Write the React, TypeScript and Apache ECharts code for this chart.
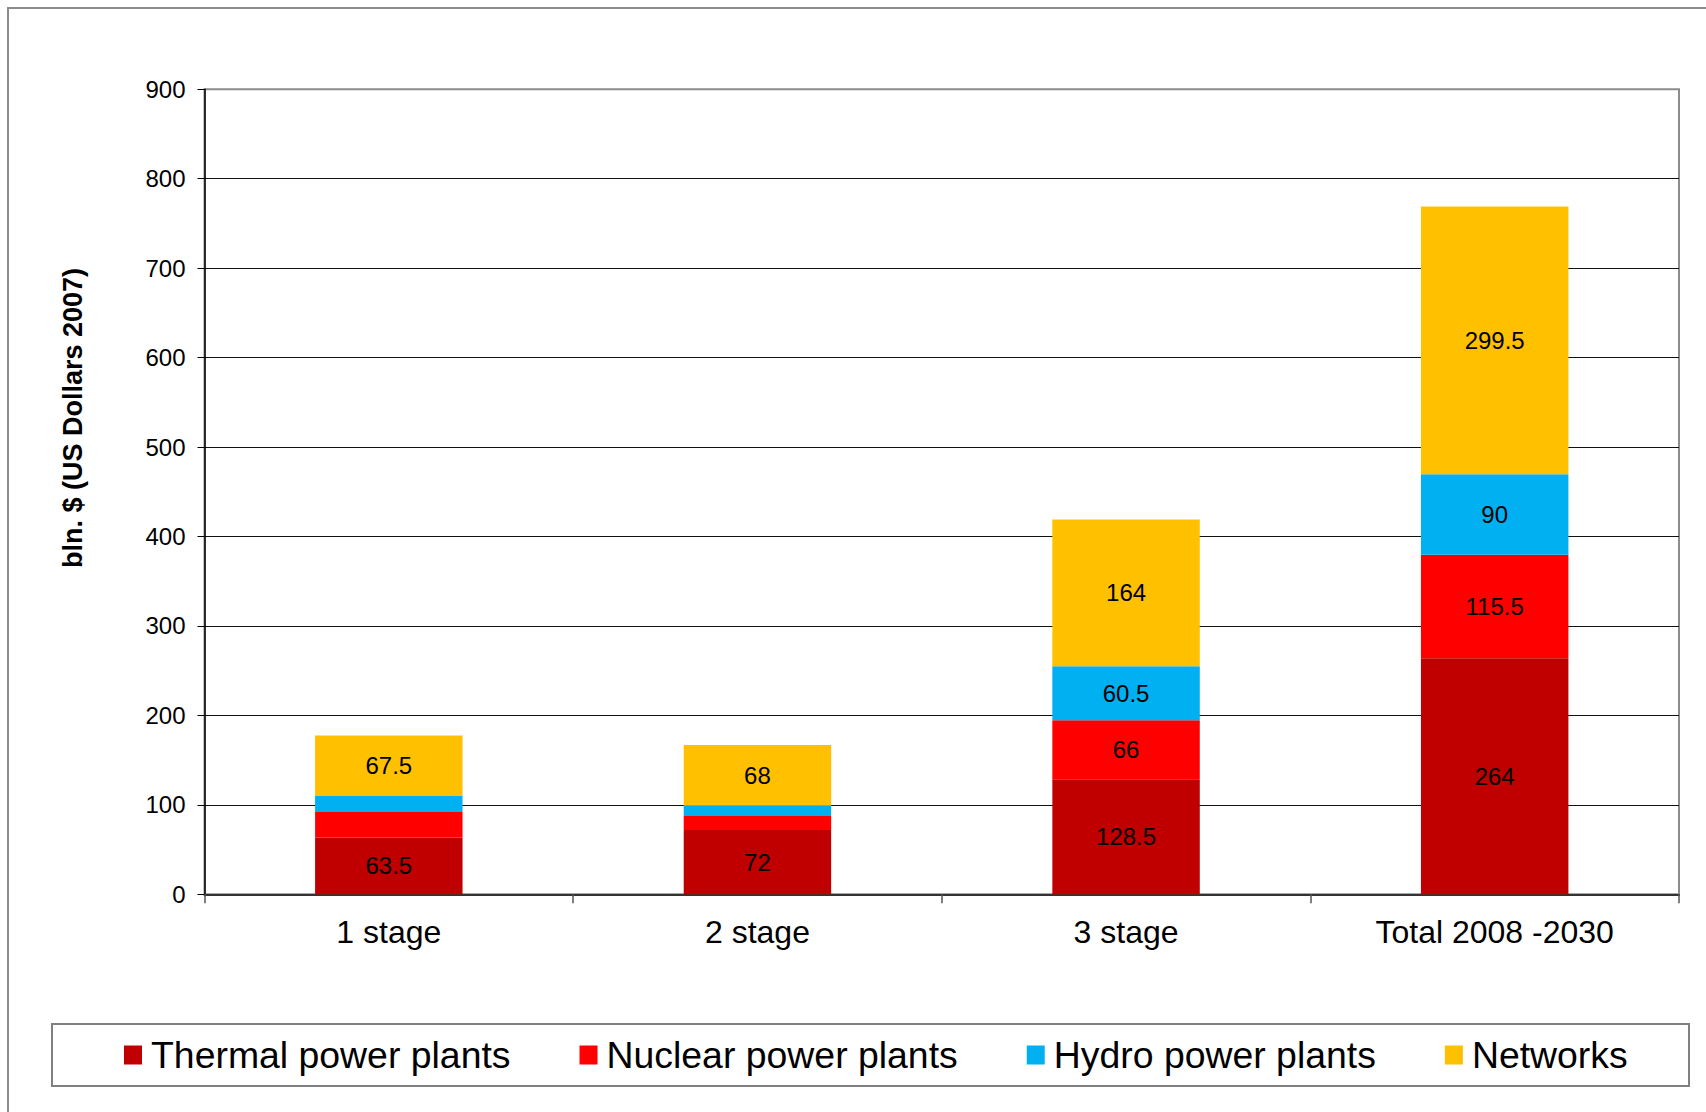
import React, { useEffect, useRef } from "react";
import * as echarts from "echarts";

const categories = ["1 stage", "2 stage", "3 stage", "Total 2008 -2030"];
const seriesNames = ["Thermal power plants", "Nuclear power plants", "Hydro power plants", "Networks"];
const thermal = [63.5, 72, 128.5, 264];
const nuclear = [28.5, 15.5, 66, 115.5];
const hydro = [18, 11.5, 60.5, 90];
const networks = [67.5, 68, 164, 299.5];
const colors = ["#C00000", "#FF0000", "#00B0F0", "#FFC000"];
// which segments carry a visible value label
const showLabel = [
  [true, true, true, true],
  [false, false, true, true],
  [false, false, true, true],
  [true, true, true, true],
];
const yTicks = { min: 0, max: 900, interval: 100 };
const yTitle = "bln. $ (US Dollars 2007)";

const FONT = "'Liberation Sans', Arial, Helvetica, sans-serif";

export default function App() {
  const ref = useRef<HTMLDivElement>(null);
  useEffect(() => {
    document.body.style.margin = "0";
    if (!ref.current) return;
    const chart = echarts.init(ref.current, undefined, { renderer: "svg" });
    const values = [thermal, nuclear, hydro, networks];
    const series = values.map((vals, si) => ({
      name: seriesNames[si],
      type: "bar",
      stack: "total",
      barWidth: "40%",
      itemStyle: { color: colors[si] },
      data: vals.map((v, ci) => ({
        value: v,
        label: { show: showLabel[si][ci] },
      })),
      label: {
        show: true,
        position: "inside",
        color: "#000",
        fontSize: 24,
        fontFamily: FONT,
      },
    }));
    chart.setOption({
      animation: false,
      backgroundColor: "#fff",
      textStyle: { fontFamily: FONT },
      grid: { left: 204.5, right: 27, top: 89.3, bottom: 217.7, show: true, borderColor: "#8c8c8c", borderWidth: 2, containLabel: false },
      legend: {
        left: 119,
        top: 1031,
        itemWidth: 18,
        itemHeight: 19,
        itemGap: 69,
        icon: "rect",
        textStyle: { fontSize: 37.4, color: "#000", fontFamily: FONT, padding: [0, 0, 0, 4], lineHeight: 38 },
        data: seriesNames,
      },
      xAxis: {
        type: "category",
        data: categories,
        boundaryGap: true,
        axisLine: { lineStyle: { color: "#333", width: 2 } },
        axisTick: { show: true, length: 9, lineStyle: { color: "#555", width: 1.5 } },
        axisLabel: { fontSize: 32, color: "#000", margin: 22, fontFamily: FONT },
      },
      yAxis: {
        type: "value",
        min: yTicks.min,
        max: yTicks.max,
        interval: yTicks.interval,
        axisLine: { show: true, lineStyle: { color: "#000", width: 1.5 } },
        axisTick: { show: true, length: 7, lineStyle: { color: "#000" } },
        axisLabel: { fontSize: 24, color: "#000", margin: 19, fontFamily: FONT },
        splitLine: { show: true, showMaxLine: false, showMinLine: false, lineStyle: { color: "#111", width: 1 } },
      },
      graphic: [
        { type: "rect", shape: { x: 8, y: 8, width: 1720, height: 1130 }, style: { fill: "none", stroke: "#8c8c8c", lineWidth: 2 }, z: -1 },
        { type: "rect", shape: { x: 52, y: 1024, width: 1637, height: 62 }, style: { fill: "none", stroke: "#808080", lineWidth: 2 }, z: -1 },
        {
          type: "text",
          x: 73,
          y: 418,
          rotation: Math.PI / 2,
          style: {
            text: yTitle,
            fontSize: 27,
            fontWeight: "bold",
            fontFamily: FONT,
            fill: "#000",
            align: "center",
            verticalAlign: "middle",
          },
        },
      ],
      series,
    });
    return () => chart.dispose();
  }, []);
  return <div ref={ref} style={{ width: 1706, height: 1112 }} />;
}
